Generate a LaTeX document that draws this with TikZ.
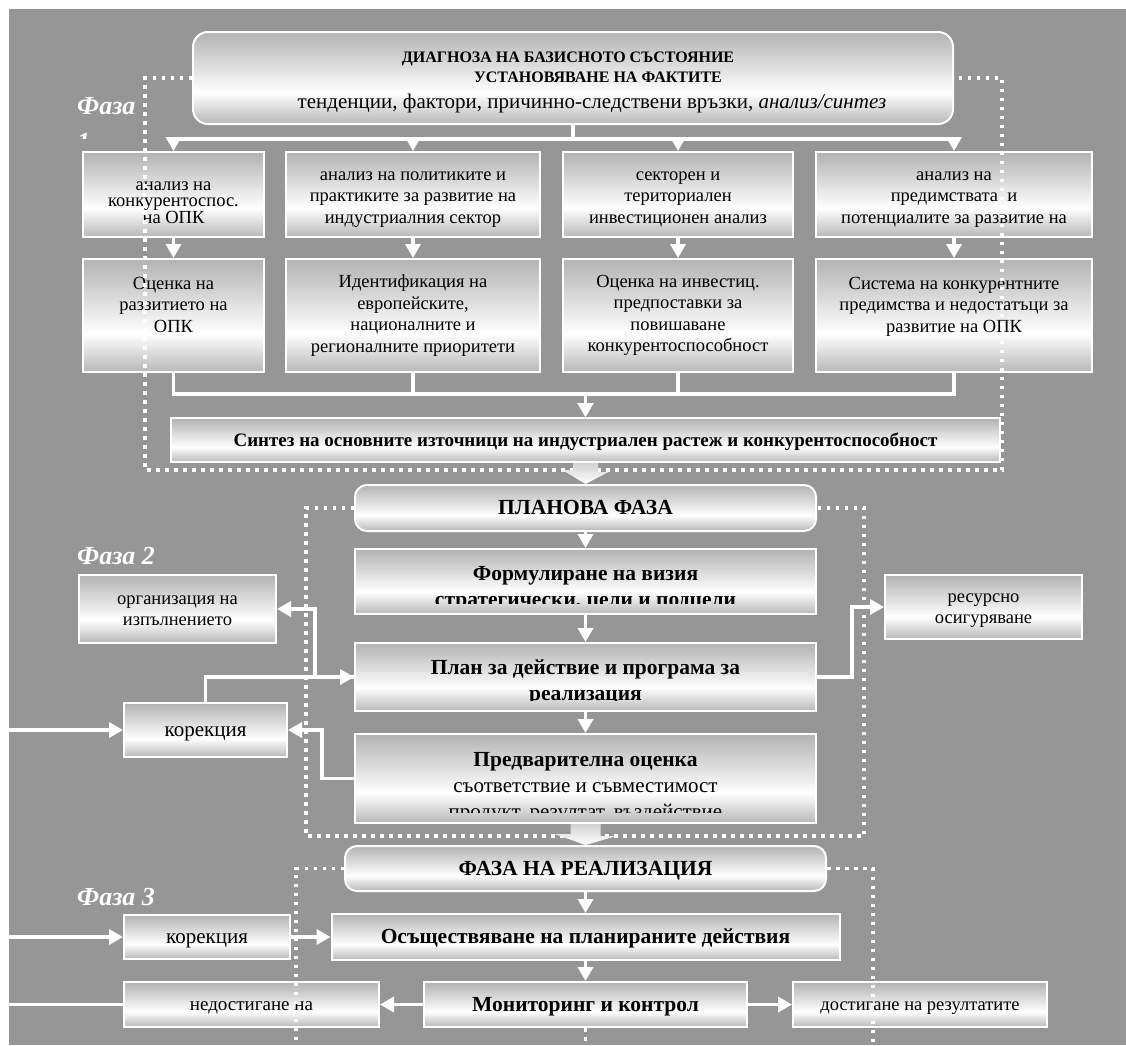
\documentclass[tikz,border=0pt]{standalone}
\usepackage{fontspec}
\setmainfont{Liberation Serif}
\usepackage{tikz}
\usetikzlibrary{arrows.meta}

\definecolor{bggray}{RGB}{150,150,150}
\colorlet{shadetop}{gray!60}
\colorlet{shadebot}{gray!56}
\pgfdeclareverticalshading{boxshade}{100bp}{color(0bp)=(shadebot); color(25bp)=(shadebot); color(42bp)=(white); color(75bp)=(shadetop); color(100bp)=(shadetop)}
% line strut with the ascent and descent of the font
\newcommand{\wstrut}{\rule[-0.258em]{0pt}{1.149em}}

\begin{document}
\begin{tikzpicture}[x=1pt, y=-1pt, auto]
	% % % % % % % % % % % % % % % % % % % % % % % % % % % % % %
	% Define styles
	\tikzstyle{box} = [rectangle, draw=white, line width=2pt, shading=boxshade, align=center,
					   inner sep=0pt, font=\fontsize{18.5}{21.5}\selectfont]
	\tikzstyle{bbox} = [box, font=\fontsize{21.5}{26}\selectfont\bfseries]
	\tikzstyle{head} = [bbox, rounded corners=12pt]
	\tikzstyle{btext} = [align=center, inner sep=0pt, font=\fontsize{21.5}{26}\selectfont\bfseries]
	\tikzstyle{line} = [draw=white, line width=3.5pt, -{Triangle[width=15pt, length=14pt]}]
	\tikzstyle{plain} = [draw=white, line width=3.5pt]
	\tikzstyle{dotframe} = [draw=white, line width=3.5pt, dash pattern=on 3.5pt off 5.5pt]
	\tikzstyle{bigarrow} = [top color=gray!35, bottom color=white, draw=none]
	\tikzstyle{phase} = [text=white, inner sep=0pt, font=\fontsize{26}{36}\selectfont\bfseries\itshape]

	\useasboundingbox (0,0) rectangle (1126,1045);
	\fill [bggray] (9,9) rectangle (1126,1045);

	% % % % % % % % % % % % % % % % % % % % % % % % % % % % % %
	% Place nodes
	% phase 1
	\node [head, rounded corners=15pt, minimum width=760, minimum height=92, font=\fontsize{21}{26}\selectfont] (diag) at (573,78)
		{\rule{0pt}{19pt}{\fontsize{16}{18}\selectfont\bfseries ДИАГНОЗА НА БАЗИСНОТО СЪСТОЯНИЕ\hspace*{10pt}}\\[-6pt]
		 {\fontsize{16}{18}\selectfont\bfseries\hspace*{50pt}УСТАНОВЯВАНЕ НА ФАКТИТЕ}\\
		 \hspace*{38pt}тенденции, фактори, причинно-следствени връзки, \textit{анализ/синтез}\rule[-5pt]{0pt}{5pt}};
	% first row
	\node [box, minimum width=181, minimum height=85, font=\fontsize{18.5}{16.5}\selectfont] (a1) at (173.5,194.5)
		{\rule{0pt}{29pt}анализ на\\конкурентоспос.\\на ОПК\rule[-5pt]{0pt}{5pt}};
	\node [box, minimum width=254, minimum height=85] (a2) at (413,194.5)
		{\rule{0pt}{19pt}анализ на политиките и\\практиките за развитие на\\индустриалния сектор\rule[-5pt]{0pt}{5pt}};
	\node [box, minimum width=230, minimum height=85] (a3) at (678,194.5)
		{\rule{0pt}{19pt}секторен и\\териториален\\инвестиционен анализ\rule[-5pt]{0pt}{5pt}};
	\node [box, minimum width=276, minimum height=85] (a4) at (954,194.5)
		{\rule{0pt}{19pt}анализ на\\предимствата\ \ и\\потенциалите за развитие на\rule[-5pt]{0pt}{5pt}};
	% second row
	\node [box, minimum width=181, minimum height=113] (b1) at (173.5,315.5) {Оценка на\\раззитието на\\ОПК\\\mbox{}};
	\node [box, minimum width=254, minimum height=113] (b2) at (413,315.5) {Идентификация на\\европейските,\\националните и\\регионалните приоритети};
	\node [box, minimum width=230, minimum height=113] (b3) at (678,315.5) {Оценка на инвестиц.\\предпоставки за\\повишаване\\конкурентоспособност};
	\node [box, minimum width=276, minimum height=113] (b4) at (954,315.5) {Система на конкурентните\\предимства и недостатъци за\\развитие на ОПК\\\mbox{}};
	\node [bbox, minimum width=829, minimum height=44, font=\fontsize{19}{23}\selectfont\bfseries] (synth) at (585.5,440)
		{\wstrut Синтез на основните източници на индустриален растеж и конкурентоспособност};

	% phase 2
	\node [head, minimum width=461, minimum height=46] (plhead) at (585.5,508) {\wstrut ПЛАНОВА ФАЗА};
	\node [box, minimum width=461, minimum height=65] (vis) at (585.5,581.5) {};
	\node [box, minimum width=461, minimum height=68] (act) at (585.5,677) {};
	\node [box, minimum width=461, minimum height=89] (pre) at (585.5,778.5) {};
	\begin{scope}
		\clip (vis.north west) rectangle ([yshift=12pt]vis.south east);
		\node [btext, anchor=north] (vis-t) at ([yshift=-12pt]vis.north)
			{\rule{0pt}{20pt}Формулиране на визия\\стратегически, цели и подцели};
	\end{scope}
	\begin{scope}
		\clip (act.north west) rectangle ([yshift=12pt]act.south east);
		\node [btext, anchor=north] (act-t) at ([yshift=-12pt]act.north)
			{\rule{0pt}{20pt}План за действие и програма за\\реализация};
	\end{scope}
	\begin{scope}
		\clip (pre.north west) rectangle ([yshift=12pt]pre.south east);
		\node [btext, anchor=north] (pre-t) at ([yshift=-13pt]pre.north)
			{\rule{0pt}{20pt}Предварителна оценка\\
			{\fontsize{21}{26}\selectfont\mdseries съответствие и съвместимост}\\
			{\fontsize{21}{26}\selectfont\mdseries продукт, резултат, въздействие}};
	\end{scope}
	\node [box, minimum width=197, minimum height=68] (org) at (177.5,609) {\wstrut организация на\\изпълнението\wstrut};
	\node [box, minimum width=197, minimum height=64] (res) at (983.5,607) {\wstrut ресурсно\\осигуряване\wstrut};
	\node [box, minimum width=163, minimum height=54, font=\fontsize{21}{24}\selectfont] (cor2) at (205.5,730) {\wstrut корекция};
	\coordinate (in2) at (9,730);

	% phase 3
	\node [head, minimum width=481, minimum height=45] (rhead) at (585.5,868.5) {\wstrut ФАЗА НА РЕАЛИЗАЦИЯ};
	\node [bbox, minimum width=508, minimum height=46] (impl) at (585.5,937) {\wstrut Осъществяване на планираните действия};
	\node [box, minimum width=166, minimum height=44, font=\fontsize{21}{24}\selectfont] (cor3) at (207,937) {\wstrut корекция};
	\node [bbox, minimum width=323, minimum height=45] (mon) at (585.5,1004.5) {\wstrut Мониторинг и контрол};
	\node [box, minimum width=255, minimum height=45, font=\fontsize{19}{22}\selectfont] (miss) at (251.5,1004.5) {\wstrut недостигане на};
	\node [box, minimum width=254, minimum height=45] (reach) at (920,1004.5) {\wstrut достигане на резултатите};
	\coordinate (in3) at (9,937);
	\coordinate (out3) at (9,1004.5);
	\coordinate (monend) at (585.5,1045);
	\coordinate (f3l) at (296,1045);
	\coordinate (f3r) at (873,1045);

	% % % % % % % % % % % % % % % % % % % % % % % % % % % % % %
	% Draw edges
	% diagnosis to analyses
	\path [line] (diag.south) -- ++(0,14) -| (a1.north);
	\path [line] (diag.south) -- ++(0,14) -| (a2.north);
	\path [line] (diag.south) -- ++(0,14) -| (a3.north);
	\path [line] (diag.south) -- ++(0,14) -| (a4.north);
	% analyses to assessments
	\path [line] (a1) -- (b1);
	\path [line] (a2) -- (b2);
	\path [line] (a3) -- (b3);
	\path [line] (a4) -- (b4);
	% assessments to synthesis
	\path [line] (b1.south) -- ++(0,21) -| (synth.north);
	\path [line] (b2.south) -- ++(0,21) -| (synth.north);
	\path [line] (b3.south) -- ++(0,21) -| (synth.north);
	\path [line] (b4.south) -- ++(0,21) -| (synth.north);
	% planning phase
	\path [line] (plhead) -- (vis);
	\path [line] (vis) -- (act);
	\path [line] (act) -- (pre);
	\path [line] (act.west) -- ++(-39,0) |- (org.east);
	\path [line] (cor2.north) |- (act.west);
	\path [line] (pre.west) -- ++(-32,0) |- (cor2.east);
	\path [line] (act.east) -- ++(35,0) |- (res.west);
	\path [line] (in2) -- (cor2);
	% realisation phase
	\path [line] (rhead) -- (impl);
	\path [line] (impl) -- (mon);
	\path [line] (cor3) -- (impl);
	\path [line] (mon) -- (miss);
	\path [line] (mon) -- (reach);
	\path [line] (in3) -- (cor3);
	\path [plain] (miss) -- (out3);

	% % dotted frames
	\path [dotframe] (diag.west) -- ++(-47,0) |- (1002,470) |- (diag.east);
	\path [dotframe] (plhead.west) -- ++(-48,0) |- (864,836) |- (plhead.east);
	\path [dotframe] (rhead.west) -| (f3l);
	\path [dotframe] (rhead.east) -| (f3r);
	\path [dotframe] (mon.south) -- (monend);

	% % block arrows between phases
	\path [bigarrow] ([xshift=-12.5pt]synth.south) -- ++(25,0) -- ++(0,9) -- ++(10.5,0) -- (plhead.north) -- ++(-23,-14) -- ++(10.5,0) -- cycle;
	\path [bigarrow] ([xshift=-15pt]pre.south) -- ++(30,0) -- ++(0,12) -- ++(16,0) -- (rhead.north) -- ++(-31,-11) -- ++(16,0) -- cycle;

	% % phase labels
	\begin{scope}
		\clip (60,80) rectangle (144,138);
		\node [phase, anchor=north west, align=left] (ph1) at (77,97) {Фаза\\1};
	\end{scope}
	\node [phase, anchor=base west] (ph2) at (77,564) {Фаза 2};
	\node [phase, anchor=base west] (ph3) at (77,905) {Фаза 3};
\end{tikzpicture}
\end{document}
